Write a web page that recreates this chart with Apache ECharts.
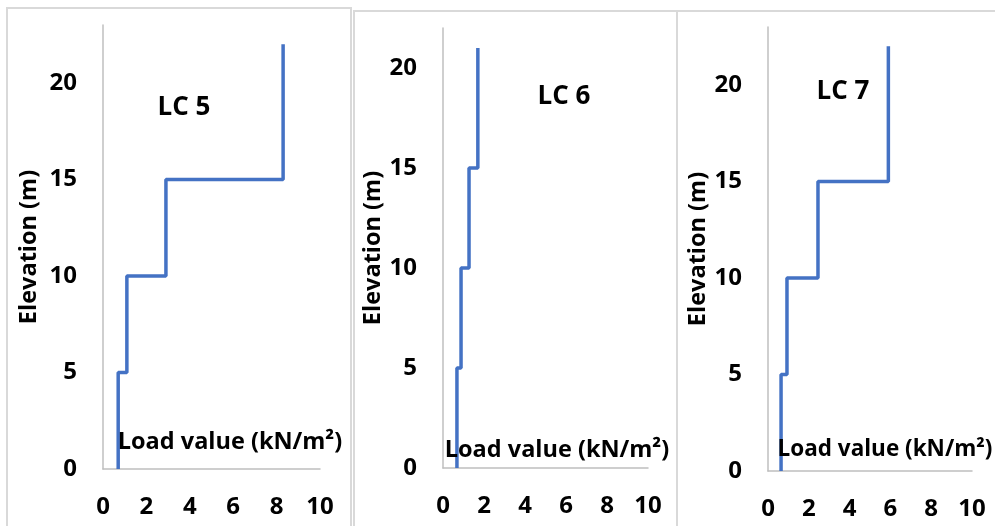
<!DOCTYPE html>
<html>
<head>
<meta charset="utf-8">
<script src="https://cdn.jsdelivr.net/npm/echarts@6/dist/echarts.min.js"></script>
<style>html,body{margin:0;padding:0;background:#fff;}#c{width:995px;height:526px;}</style>
</head>
<body>
<div id="c"></div>
<script>
// Data (load value in kN/m², elevation in m), step profile points
const lc5Load = [0.7, 0.7, 1.1, 1.1, 2.9, 2.9, 8.3, 8.3];
const lc5Elev = [0, 5, 5, 10, 10, 15, 15, 22];
const lc6Load = [0.68, 0.68, 0.88, 0.88, 1.27, 1.27, 1.7, 1.7];
const lc6Elev = [0, 5, 5, 10, 10, 15, 15, 21];
const lc7Load = [0.64, 0.64, 0.93, 0.93, 2.45, 2.45, 5.9, 5.9];
const lc7Elev = [0, 5, 5, 10, 10, 15, 15, 22];
const panelTitles = ['LC 5', 'LC 6', 'LC 7'];
const xTicks = [0, 2, 4, 6, 8, 10];
const yTicks = [0, 5, 10, 15, 20];
const yMaxes = [23, 22, 23];
const xName = 'Load value (kN/m²)';
const yName = 'Elevation (m)';

const FONT = '"Open Sans"';
const pairs = (xs, ys) => xs.map((x, i) => [x, ys[i]]);
const seriesData = [pairs(lc5Load, lc5Elev), pairs(lc6Load, lc6Elev), pairs(lc7Load, lc7Elev)];

const grids = [
  {left: 103, width: 217, top: 25, height: 444},
  {left: 443, width: 205, top: 28, height: 440},
  {left: 768, width: 204, top: 27, height: 444}
];
const nameGaps = [62, 52, 55];
const titlePos = [[184, 108], [564, 97], [843, 92]];
const xNamePos = [[230, 442], [557, 450], [885, 450]];
const xNameSize = [23.5, 23.5, 22.5];

const labelStyle = {color: '#000', fontFamily: FONT, fontWeight: 'bold', fontSize: 24};
const axisLine = {show: true, lineStyle: {color: '#bfbfbf', width: 1.5}};

const chart = echarts.init(document.getElementById('c'), null, {renderer: 'canvas'});
chart.setOption({
  backgroundColor: '#fff',
  animation: false,
  grid: grids.map(g => Object.assign({containLabel: false}, g)),
  xAxis: grids.map((g, i) => ({
    type: 'value', gridIndex: i, min: xTicks[0], max: xTicks[xTicks.length - 1], interval: 2,
    axisLine: axisLine, axisTick: {show: false}, splitLine: {show: false},
    axisLabel: Object.assign({margin: 26}, labelStyle)
  })),
  yAxis: grids.map((g, i) => ({
    type: 'value', gridIndex: i, min: yTicks[0], max: yMaxes[i], interval: 5,
    axisLine: axisLine, axisTick: {show: false}, splitLine: {show: false},
    axisLabel: Object.assign({margin: 26, showMaxLabel: false,
      formatter: v => (yTicks.indexOf(v) >= 0 ? String(v) : '')}, labelStyle),
    name: yName, nameLocation: 'middle', nameRotate: 90, nameGap: nameGaps[i],
    nameTextStyle: {color: '#000', fontFamily: FONT, fontWeight: 'bold', fontSize: 23.5}
  })),
  series: seriesData.map((d, i) => ({
    type: 'line', xAxisIndex: i, yAxisIndex: i, data: d, symbol: 'none',
    lineStyle: {color: '#4472C4', width: 3.5}, z: 3
  })),
  graphic: [
    {type: 'rect', shape: {x: 7, y: 8, width: 344, height: 540}, style: {fill: null, stroke: '#d9d9d9', lineWidth: 2}, silent: true},
    {type: 'rect', shape: {x: 354, y: 11, width: 323, height: 540}, style: {fill: null, stroke: '#d9d9d9', lineWidth: 2}, silent: true},
    {type: 'rect', shape: {x: 677, y: 11, width: 340, height: 540}, style: {fill: null, stroke: '#d9d9d9', lineWidth: 2}, silent: true}
  ].concat(panelTitles.map((t, i) => ({
    type: 'text', x: titlePos[i][0], y: titlePos[i][1], z: 10,
    style: {text: t, textAlign: 'center', textVerticalAlign: 'middle', fill: '#000',
      font: 'bold 26px ' + FONT}
  }))).concat(xNamePos.map((p, i) => ({
    type: 'text', x: p[0], y: p[1], z: 10,
    style: {text: xName, textAlign: 'center', textVerticalAlign: 'middle', fill: '#000',
      font: 'bold ' + xNameSize[i] + 'px ' + FONT}
  })))
});
</script>
</body>
</html>
